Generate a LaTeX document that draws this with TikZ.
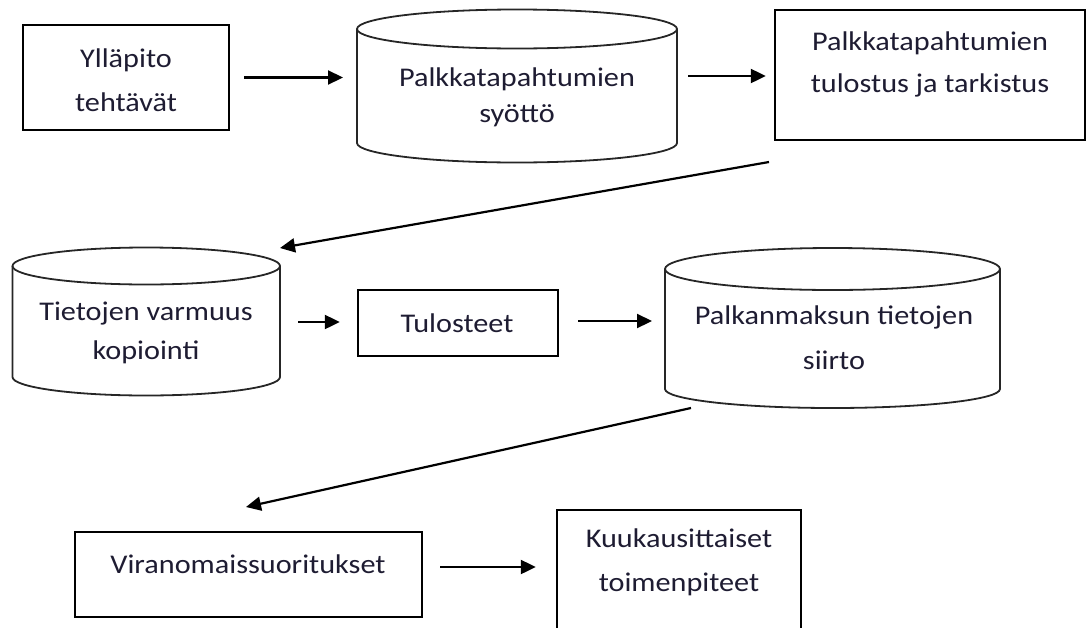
\documentclass[tikz,border=0pt]{standalone}
\usepackage{fontspec}
\setmainfont{Carlito}[FakeStretch=1.12]
\usetikzlibrary{arrows.meta,calc}
\definecolor{txt}{RGB}{30,28,50}
\begin{document}
\begin{tikzpicture}[x=1pt,y=-1pt,
  box/.style={draw=black, line width=2.4pt, inner sep=0pt},
  body/.style={inner sep=0pt, outer sep=0pt},
  lbl/.style={font=\fontsize{27}{42}\selectfont, text=txt, align=center, inner sep=0pt},
  cylline/.style={draw=black!85, line width=1.8pt},
  flow/.style={-{Triangle[length=15pt,width=14pt]}, line width=2.2pt},
]
\useasboundingbox (0,0) rectangle (1092,627);
\clip (0,0) rectangle (1092,627);

% ---- row 1 ----
\node[box, minimum width=206pt, minimum height=105pt] (b1) at (126,77.5) {};
\node[lbl, font=\fontsize{27}{44}\selectfont] (b1t) at (126,80) {Ylläpito\\tehtävät};

\node[body, minimum width=320pt, minimum height=114pt] (c1) at (517,86) {};
\draw[cylline] (c1.north west) -- (c1.south west)
  arc[start angle=180, end angle=360, x radius=160pt, y radius=19.5pt] -- (c1.north east);
\draw[cylline] (c1.north) ellipse [x radius=160pt, y radius=19.5pt];
\node[lbl, font=\fontsize{27}{36}\selectfont] (c1t) at (517,97.5) {Palkkatapahtumien\\syöttö};

\node[box, minimum width=310pt, minimum height=130pt] (b3) at (930,75) {};
\node[lbl] (b3t) at (930,64) {Palkkatapahtumien\\tulostus ja tarkistus};

\draw[flow, shorten <=14pt, shorten >=14pt] (b1.east) -- (b1.east -| c1.west);
\draw[flow, shorten <=11pt, shorten >=8pt] (c1.east |- 0,76) -- (b3.west |- 0,76);

% ---- row 2 ----
\node[body, minimum width=267.5pt, minimum height=111pt] (c2) at (146.25,321.5) {};
\draw[cylline] (c2.north west) -- (c2.south west)
  arc[start angle=180, end angle=360, x radius=133.75pt, y radius=18.5pt] -- (c2.north east);
\draw[cylline] (c2.north) ellipse [x radius=133.75pt, y radius=18.5pt];
\node[lbl, font=\fontsize{27}{39}\selectfont] (c2t) at (146,332.5) {Tietojen varmuus\\kopiointi};

\node[box, minimum width=200pt, minimum height=66pt] (b4) at (458,323) {};
\node[lbl] (b4t) at (457,323) {Tulosteet};

\node[body, minimum width=335pt, minimum height=120pt] (c3) at (832.5,329) {};
\draw[cylline] (c3.north west) -- (c3.south west)
  arc[start angle=180, end angle=360, x radius=167.5pt, y radius=19pt] -- (c3.north east);
\draw[cylline] (c3.north) ellipse [x radius=167.5pt, y radius=21pt];
\node[lbl, font=\fontsize{27}{45}\selectfont] (c3t) at (834,337.5) {Palkanmaksun tietojen\\siirto};

\coordinate (d1s) at (769,162);
\coordinate (d1e) at (280,248);
\draw[flow] (d1s) -- (d1e);

\draw[flow, shorten <=18pt, shorten >=17pt] (c2.east |- 0,322) -- (b4.west |- 0,322);
\draw[flow, shorten <=19pt, shorten >=13pt] (b4.east |- 0,321) -- (c3.west |- 0,321);

% ---- row 3 ----
\node[box, minimum width=347pt, minimum height=85pt] (b5) at (248.5,574.5) {};
\node[lbl] (b5t) at (248,564) {Viranomaissuoritukset};

\node[box, minimum width=244pt, minimum height=140pt] (b6) at (679,580) {};
\node[lbl, font=\fontsize{27}{44}\selectfont] (b6t) at (679,562) {Kuukausittaiset\\toimenpiteet};

\coordinate (d2s) at (691,408);
\coordinate (d2e) at (246,507);
\draw[flow] (d2s) -- (d2e);

\draw[flow, shorten <=17pt, shorten >=20pt] (b5.east |- 0,567) -- (b6.west |- 0,567);
\end{tikzpicture}
\end{document}
